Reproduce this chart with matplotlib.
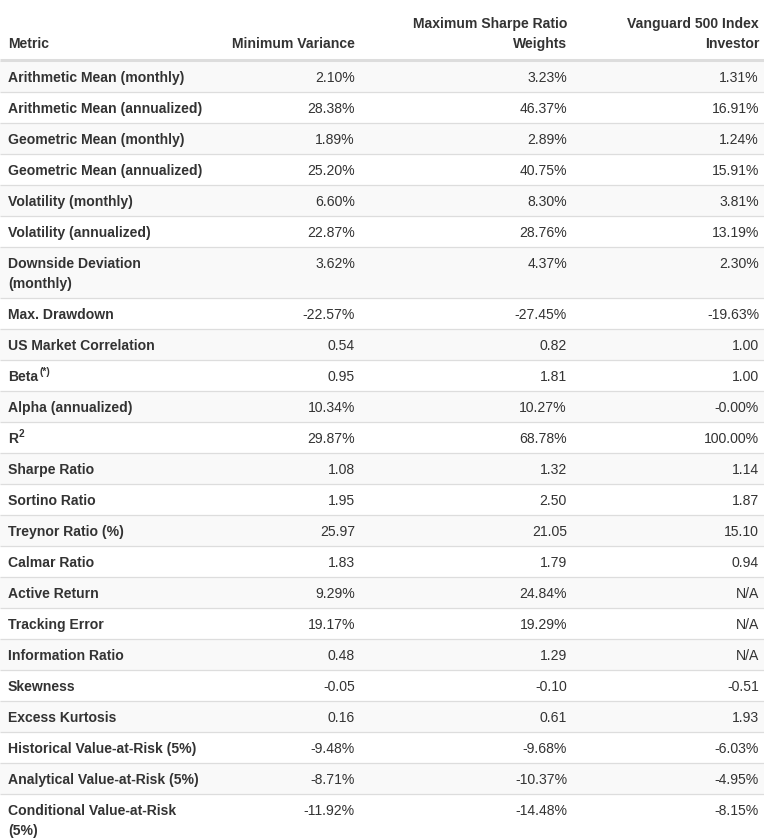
import matplotlib
matplotlib.use("Agg")
import matplotlib.pyplot as plt
from matplotlib.patches import Rectangle

# ── Table content ────────────────────────────────────────────────
columns = ["Metric", "Minimum Variance",
           "Maximum Sharpe Ratio\nWeights", "Vanguard 500 Index\nInvestor"]

metrics = [
    "Arithmetic Mean (monthly)", "Arithmetic Mean (annualized)",
    "Geometric Mean (monthly)", "Geometric Mean (annualized)",
    "Volatility (monthly)", "Volatility (annualized)",
    "Downside Deviation\n(monthly)", "Max. Drawdown",
    "US Market Correlation", "Beta", "Alpha (annualized)", "R",
    "Sharpe Ratio", "Sortino Ratio", "Treynor Ratio (%)", "Calmar Ratio",
    "Active Return", "Tracking Error", "Information Ratio", "Skewness",
    "Excess Kurtosis", "Historical Value-at-Risk (5%)",
    "Analytical Value-at-Risk (5%)", "Conditional Value-at-Risk\n(5%)",
]
metric_sup = ["", "", "", "", "", "", "", "", "", "(*)", "", "2",
              "", "", "", "", "", "", "", "", "", "", "", ""]

min_variance = [
    "2.10%", "28.38%", "1.89%", "25.20%", "6.60%", "22.87%", "3.62%",
    "-22.57%", "0.54", "0.95", "10.34%", "29.87%", "1.08", "1.95", "25.97",
    "1.83", "9.29%", "19.17%", "0.48", "-0.05", "0.16", "-9.48%", "-8.71%",
    "-11.92%",
]
max_sharpe = [
    "3.23%", "46.37%", "2.89%", "40.75%", "8.30%", "28.76%", "4.37%",
    "-27.45%", "0.82", "1.81", "10.27%", "68.78%", "1.32", "2.50", "21.05",
    "1.79", "24.84%", "19.29%", "1.29", "-0.10", "0.61", "-9.68%", "-10.37%",
    "-14.48%",
]
vanguard = [
    "1.31%", "16.91%", "1.24%", "15.91%", "3.81%", "13.19%", "2.30%",
    "-19.63%", "1.00", "1.00", "-0.00%", "100.00%", "1.14", "1.87", "15.10",
    "0.94", "N/A", "N/A", "N/A", "-0.51", "1.93", "-6.03%", "-4.95%",
    "-8.15%",
]

# ── Layout (pixels) ──────────────────────────────────────────────
W, H = 764, 839
FS = 14 * 72 / 100          # 14px font at dpi 100
SUP_FS = 10 * 72 / 100
TEXT = "#333333"
LINE = "#dddddd"
STRIPE = "#f9f9f9"
FONT = "Liberation Sans"

left_x = 8
right_x = [355, 567, 759]
header_line_y = 59.5
row_h, line_h = 31, 20

plt.rcParams["font.family"] = [FONT, "DejaVu Sans"]

fig = plt.figure(figsize=(W / 100, H / 100), dpi=100)
ax = fig.add_axes([0, 0, 1, 1])
ax.set_xlim(0, W)
ax.set_ylim(H, 0)
ax.axis("off")
renderer = fig.canvas.get_renderer()

# ── Header ───────────────────────────────────────────────────────
header_base = 48
for ci, col in enumerate(columns):
    lines = col.split("\n")
    for li, txt in enumerate(lines):
        y = header_base - line_h * (len(lines) - 1 - li)
        if ci == 0:
            ax.text(left_x, y, txt, ha="left", va="baseline", fontsize=FS,
                    fontweight="bold", color=TEXT)
        else:
            ax.text(right_x[ci - 1], y, txt, ha="right", va="baseline",
                    fontsize=FS, fontweight="bold", color=TEXT)
ax.plot([0, W], [header_line_y, header_line_y], color=LINE, lw=2.2,
        solid_capstyle="butt")

# ── Body rows ────────────────────────────────────────────────────
top = 61
for i, name in enumerate(metrics):
    lines = name.split("\n")
    h = row_h + line_h * (len(lines) - 1)
    if i % 2 == 0:
        ax.add_patch(Rectangle((0, top), W, h, facecolor=STRIPE,
                               edgecolor="none", zorder=0))
    base = top + 21
    for li, txt in enumerate(lines):
        t = ax.text(left_x, base + line_h * li, txt, ha="left", va="baseline",
                    fontsize=FS, fontweight="bold", color=TEXT)
        if li == 0 and metric_sup[i]:
            # superscript drawn right after the label
            bb = t.get_window_extent(renderer=renderer)
            ax.text(left_x + bb.width + 1, base - 6, metric_sup[i],
                    ha="left", va="baseline", fontsize=SUP_FS,
                    fontweight="bold", color=TEXT)
    for ci, series in enumerate([min_variance, max_sharpe, vanguard]):
        ax.text(right_x[ci], base, series[i], ha="right", va="baseline",
                fontsize=FS, color=TEXT)
    top += h
    if i < len(metrics) - 1:
        ax.plot([0, W], [top - 0.5, top - 0.5], color=LINE, lw=0.9,
                solid_capstyle="butt", zorder=1)

fig.savefig("out.png", dpi=100, facecolor="white")
